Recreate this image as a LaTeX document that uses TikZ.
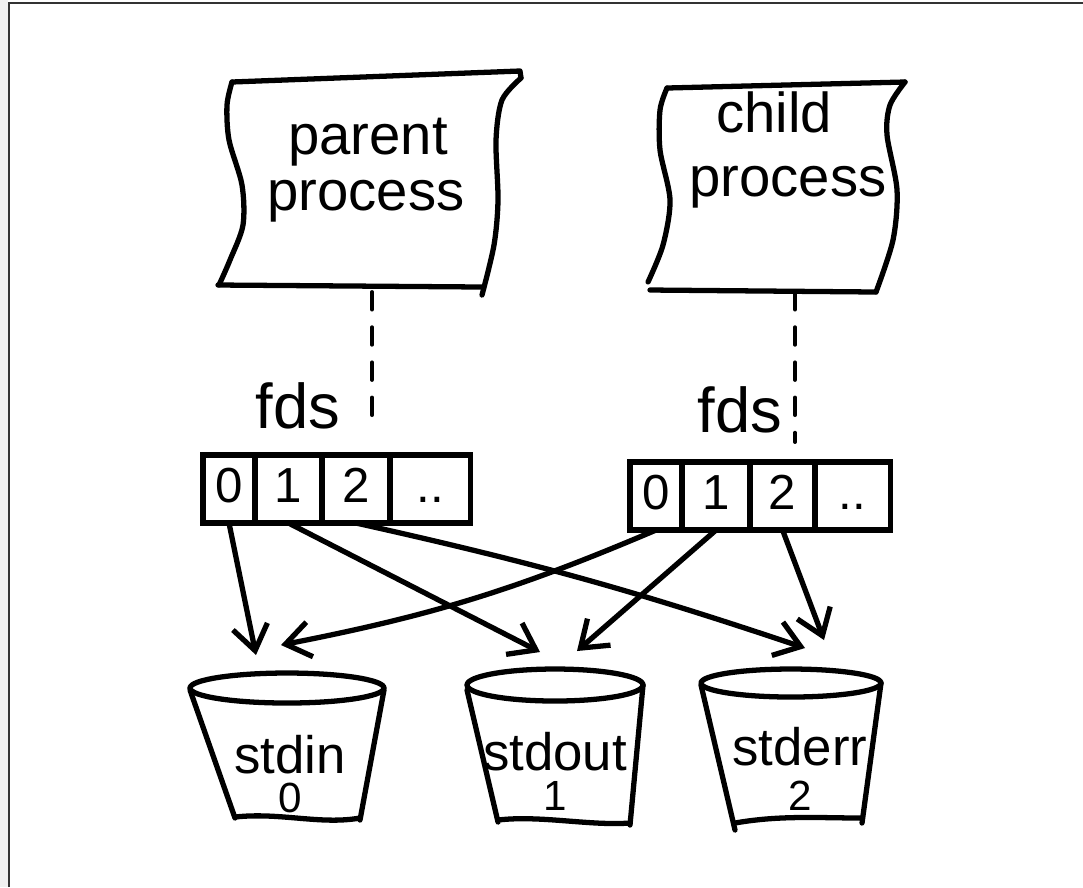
\documentclass[tikz,border=0pt]{standalone}
\usepackage{fontspec}
\setmainfont{Liberation Sans}
\usetikzlibrary{arrows.meta,positioning}

\tikzset{
  sketch/.style={line width=1.5pt, line join=round, line cap=round},
  hand/.style={font=\fontsize{16}{17}\selectfont, anchor=base},
  digit/.style={font=\fontsize{12}{12}\selectfont, anchor=base},
  cell/.style={draw, line width=1.5pt, outer sep=0pt, inner sep=0pt,
    minimum height=0.68cm, text height=1.6ex, text depth=0.2ex,
    font=\fontsize{14}{14}\selectfont},
  link/.style={sketch, ->},
  fdlink/.style={line width=1.1pt, line cap=round, dash pattern=on 5pt off 5pt},
}

\begin{document}
\begin{tikzpicture}[x=0.01cm, y=-0.01cm, >={Straight Barb[length=7pt,width=10pt]}]
    \useasboundingbox (0,0) rectangle (1083,887);
    % page frame
    \fill[gray!12] (0,0) rectangle (8,887);
    \draw[line width=0.8pt, black!80] (9,887) -- (9,3) -- (1083,3);

    % parent process sheet
    \draw[sketch] (232,82) -- (520,71) -- (521,78);
    \draw[sketch] plot[smooth] coordinates {(521,78) (502,100) (496,140) (498,200) (494,245) (482,295)};
    \draw[sketch] plot[smooth] coordinates {(232,82) (227,105) (229,140) (242,185) (243,225) (230,260) (219,285)};
    \draw[sketch] (218,285) -- (482,287);
    \node[hand] (parent) at (368,154) {parent};
    \node[hand] (parent2) at (366,210) {process};

    % child process sheet
    \draw[sketch] (667,88) -- (905,82);
    \draw[sketch] plot[smooth] coordinates {(905,82) (890,105) (887,135) (897,190) (893,240) (876,292)};
    \draw[sketch] plot[smooth] coordinates {(667,88) (660,110) (660,150) (670,200) (663,245) (648,282)};
    \draw[sketch] (650,290) -- (876,292);
    \node[hand] (child) at (774,132) {child};
    \node[hand] (child2) at (788,196) {process};

    % fd tables
    \node[hand, font=\fontsize{18}{18}\selectfont] (fdsp) at (298,428) {fds};
    \node[cell, minimum width=0.52cm] (p0) at (229,489) {0};
    \node[cell, minimum width=0.67cm, right=0pt of p0] (p1) {1};
    \node[cell, minimum width=0.68cm, right=0pt of p1] (p2) {2};
    \node[cell, minimum width=0.80cm, right=0pt of p2] (p3) {..};

    \node[hand, font=\fontsize{18}{18}\selectfont] (fdsc) at (740,432) {fds};
    \node[cell, minimum width=0.52cm] (c0) at (656,496) {0};
    \node[cell, minimum width=0.68cm, right=0pt of c0] (c1) {1};
    \node[cell, minimum width=0.65cm, right=0pt of c1] (c2) {2};
    \node[cell, minimum width=0.75cm, right=0pt of c2] (c3) {..};

    % process -> fd table
    \coordinate (par-b) at (372,292);
    \coordinate (par-fd) at (372,425);
    \coordinate (chi-b) at (795,292);
    \coordinate (chi-fd) at (795,442);
    \draw[fdlink] (par-b) -- (par-fd);
    \draw[fdlink] (chi-b) -- (chi-fd);

    % streams
    \draw[sketch] (287,688) ellipse [x radius=97, y radius=15];
    \draw[sketch] (190,690) -- (235,818) (384,690) -- (360,820);
    \draw[sketch] (235,817) .. controls (280,812) and (320,825) .. (360,818);
    \node[hand, font=\fontsize{15}{15}\selectfont] (stdin) at (290,773) {stdin};
    \node[digit] (stdin-no) at (290,812) {0};

    \draw[sketch] (555,685) ellipse [x radius=88, y radius=16];
    \draw[sketch] (467,690) -- (498,822) (643,685) -- (630,825);
    \draw[sketch] (498,820) .. controls (540,815) and (590,826) .. (630,823);
    \node[hand, font=\fontsize{15}{15}\selectfont] (stdout) at (555,770) {stdout};
    \node[digit] (stdout-no) at (555,810) {1};

    \draw[sketch] (791,683) ellipse [x radius=90, y radius=14];
    \draw[sketch] (701,685) -- (735,830) (881,683) -- (862,823);
    \draw[sketch] (735,823) .. controls (780,815) and (820,818) .. (862,818);
    \node[hand, font=\fontsize{15}{15}\selectfont] (stderr) at (800,765) {stderr};
    \node[digit] (stderr-no) at (800,810) {2};

    \coordinate (in-l) at (256,655);
    \coordinate (in-r) at (281,645);
    \coordinate (out-l) at (540,652);
    \coordinate (out-r) at (577,651);
    \coordinate (err-l) at (805,648);
    \coordinate (err-r) at (824,640);

    % fd -> stream
    \draw[link] (p0.south) -- (in-l);
    \draw[link] (p1.south) -- (out-l);
    \draw[link] (p2.south) to[bend left=3] (err-l);
    \draw[link] (c0.south) to[bend left=6] (in-r);
    \draw[link] (c1.south) -- (out-r);
    \draw[link] (c2.south) -- (err-r);
\end{tikzpicture}
\end{document}
